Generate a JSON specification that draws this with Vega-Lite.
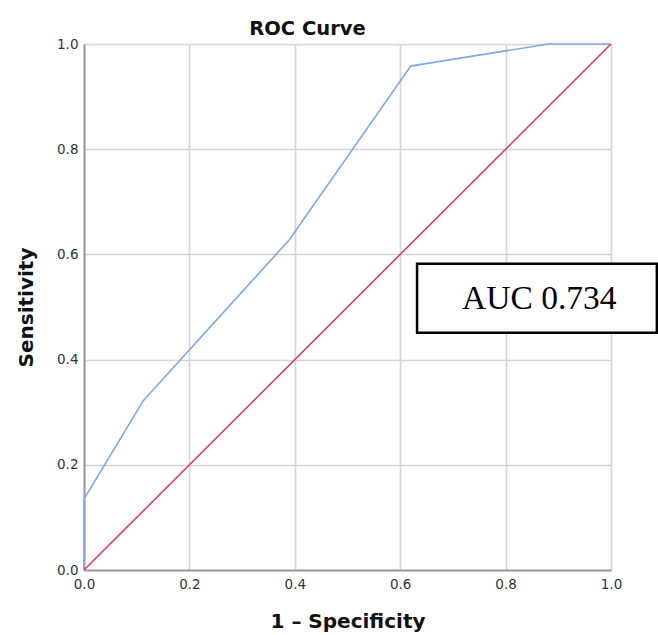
{
  "$schema": "https://vega.github.io/schema/vega-lite/v6.json",
  "autosize": "none",
  "width": 527,
  "height": 526,
  "padding": {"left": 84, "top": 44, "right": 47, "bottom": 65},
  "background": "white",
  "title": {
    "text": "ROC Curve",
    "font": "DejaVu Sans",
    "fontSize": 19.5,
    "fontWeight": "bold",
    "color": "#111111",
    "anchor": "middle",
    "dx": -40,
    "dy": 5,
    "offset": 3
  },
  "config": {
    "view": {"stroke": null},
    "axis": {
      "grid": true,
      "gridColor": "#d4d4d4",
      "gridWidth": 1.6,
      "domainColor": "#9a9a9a",
      "domainWidth": 2,
      "ticks": false,
      "labelFont": "DejaVu Sans",
      "labelFontSize": 13.5,
      "labelColor": "#333333",
      "labelFlush": false,
      "titleFont": "DejaVu Sans",
      "titleFontSize": 20,
      "titleFontWeight": "bold",
      "titleColor": "#111111"
    }
  },
  "datasets": {
    "roc": [
      {"fpr": 0.0, "tpr": 0.0, "series": "curve", "ord": 0},
      {"fpr": 0.0, "tpr": 0.135, "series": "curve", "ord": 1},
      {"fpr": 0.1125, "tpr": 0.322, "series": "curve", "ord": 2},
      {"fpr": 0.389, "tpr": 0.627, "series": "curve", "ord": 3},
      {"fpr": 0.62, "tpr": 0.958, "series": "curve", "ord": 4},
      {"fpr": 0.881, "tpr": 1.0, "series": "curve", "ord": 5},
      {"fpr": 1.0, "tpr": 1.0, "series": "curve", "ord": 6},
      {"fpr": 0.0, "tpr": 0.0, "series": "reference", "ord": 0},
      {"fpr": 1.0, "tpr": 1.0, "series": "reference", "ord": 1}
    ],
    "note": [
      {"x1": 0.632, "x2": 1.087, "y1": 0.451, "y2": 0.582, "xc": 0.864, "yc": 0.516, "label": "AUC 0.734"}
    ]
  },
  "layer": [
    {
      "data": {"name": "roc"},
      "mark": {"type": "line", "strokeWidth": 1.6},
      "encoding": {
        "x": {
          "field": "fpr", "type": "quantitative",
          "scale": {"domain": [0, 1], "nice": false},
          "axis": {"title": "1 \u2013 Specificity", "values": [0, 0.2, 0.4, 0.6, 0.8, 1.0], "format": ".1f", "labelPadding": 7, "titlePadding": 21}
        },
        "y": {
          "field": "tpr", "type": "quantitative",
          "scale": {"domain": [0, 1], "nice": false},
          "axis": {"title": "Sensitivity", "values": [0, 0.2, 0.4, 0.6, 0.8, 1.0], "format": ".1f", "labelPadding": 6, "titlePadding": 20}
        },
        "color": {
          "field": "series", "type": "nominal",
          "scale": {"domain": ["curve", "reference"], "range": ["#7eaaea", "#d6435f"]},
          "legend": null
        },
        "order": {"field": "ord", "type": "quantitative"}
      }
    },
    {
      "data": {"name": "note"},
      "mark": {"type": "rect", "fill": "white", "stroke": "black", "strokeWidth": 2.5},
      "encoding": {
        "x": {"field": "x1", "type": "quantitative"},
        "x2": {"field": "x2"},
        "y": {"field": "y1", "type": "quantitative"},
        "y2": {"field": "y2"}
      }
    },
    {
      "data": {"name": "note"},
      "mark": {"type": "text", "font": "Liberation Serif", "fontSize": 33.5, "color": "black", "align": "center", "baseline": "middle"},
      "encoding": {
        "x": {"field": "xc", "type": "quantitative"},
        "y": {"field": "yc", "type": "quantitative"},
        "text": {"field": "label"}
      }
    }
  ]
}
